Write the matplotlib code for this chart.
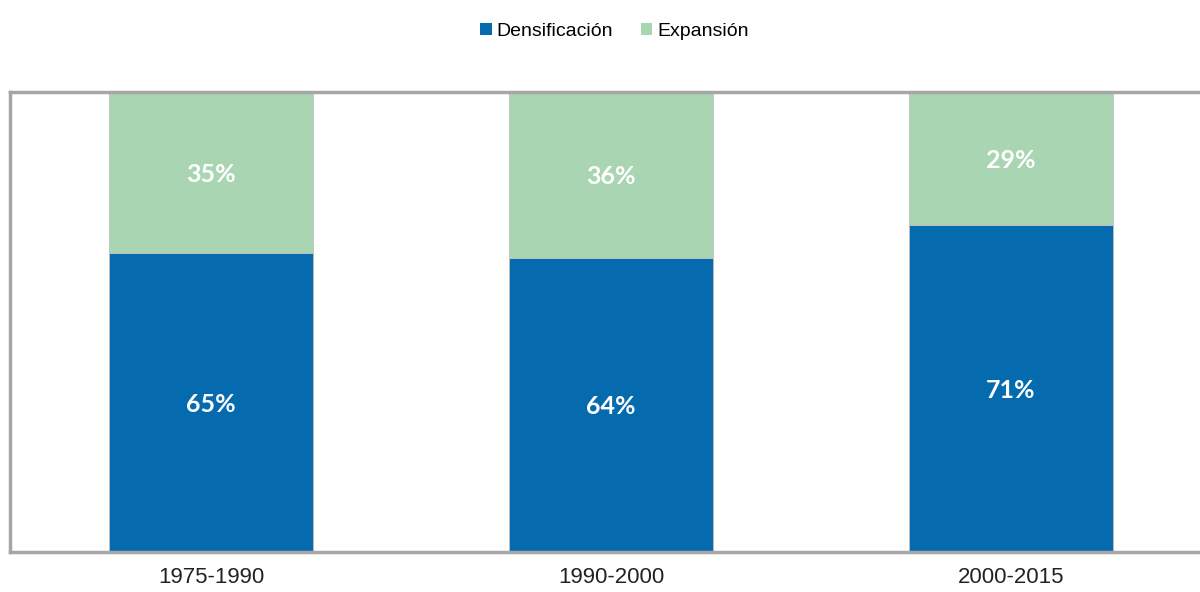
import numpy as np
import matplotlib
matplotlib.use("Agg")
import matplotlib.pyplot as plt
from matplotlib.patches import Patch

AZUL, VERDE, GRIS = "#056AAE", "#A9D5B3", "#A6A6A6"

periodos = ["1975-1990", "1990-2000", "2000-2015"]
densificacion = [65, 64, 71]
expansion = [35, 36, 29]

NARROW = ["Liberation Sans", "DejaVu Sans"]
BOLD = ["Lato", "DejaVu Sans"]

fig = plt.figure(figsize=(12, 5.92), dpi=100)
ax = fig.add_axes([10 / 1200, 1 - 552 / 592, 1201 / 1200, 460 / 592])

x = np.arange(len(periodos))
w = 0.51
ax.bar(x, densificacion, w, color=AZUL, edgecolor="#BFBFBF", linewidth=0.6)
ax.bar(x, expansion, w, bottom=densificacion, color=VERDE,
       edgecolor="#BFBFBF", linewidth=0.6)

for i, (d, e) in enumerate(zip(densificacion, expansion)):
    ax.text(i, d / 2, f"{d}%", ha="center", va="center_baseline", color="white",
            fontsize=18, fontweight="bold", family=BOLD)
    ax.text(i, d + e / 2, f"{e}%", ha="center", va="center_baseline", color="white",
            fontsize=18, fontweight="bold", family=BOLD)

ax.set_xlim(-0.5025, 2.5)
ax.set_ylim(0, 100)
ax.set_yticks([])
ax.set_xticks(x)
ax.set_xticklabels(periodos, fontsize=16, family=NARROW, color="#222222")
ax.tick_params(axis="x", length=0, pad=11)
for s in ax.spines.values():
    s.set_color(GRIS)
    s.set_linewidth(2.5)

handles = [Patch(facecolor=AZUL, label="Densificación"),
           Patch(facecolor=VERDE, label="Expansión")]
fig.legend(handles=handles, loc="center", bbox_to_anchor=(0.512, 0.947),
           ncol=2, frameon=False, handlelength=0.6, handleheight=0.6,
           handletextpad=0.25, columnspacing=1.4,
           prop={"family": NARROW, "size": 14})

fig.savefig("out.png", dpi=100)
